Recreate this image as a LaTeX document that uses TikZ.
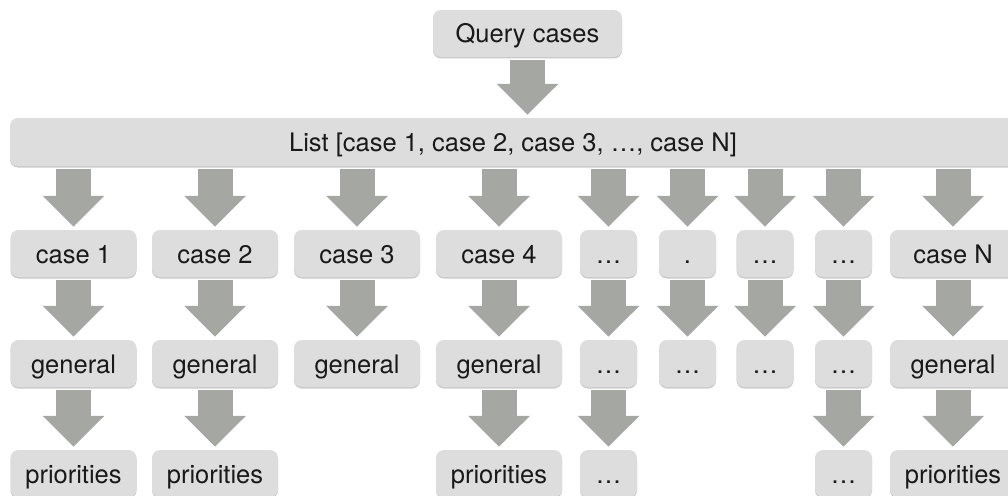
\documentclass[tikz,border=0pt]{standalone}
\usepackage{fontspec}
\setmainfont{TeX Gyre Heros}
\usepackage{tikz}
\usetikzlibrary{arrows.meta,shadows}
\definecolor{boxgrey}{RGB}{221,221,221}
\definecolor{arrowgrey}{RGB}{164,167,162}
\definecolor{textgrey}{RGB}{25,25,25}
\tikzstyle{box}=[rectangle,rounded corners=8pt,fill=boxgrey,minimum height=47pt,inner sep=0pt,text height=24pt,text depth=5pt,text=textgrey,font=\fontsize{25.5}{30}\selectfont,drop shadow={shadow xshift=0pt,shadow yshift=-1.5pt,opacity=0.35,fill=black!60}]
\tikzstyle{wide box}=[box,minimum width=126pt]
\tikzstyle{small box}=[box,minimum width=57pt]
\tikzstyle{edge} = [draw=arrowgrey,line width=35pt,-{Triangle[width=60pt,length=31pt]},shorten <=3pt,shorten >=3pt]

\begin{document}
\begin{tikzpicture}[x=1pt,y=-1pt]
        \useasboundingbox (0,0) rectangle (1008,495);
        % top
        \node[box,minimum width=189pt] (query) at (527.5,33.5) {Query cases};
        \node[box,minimum width=1006pt,minimum height=48pt] (list) at (513,142) {List [case 1, case 2, case 3, …, case N]};
        % cases
        \node[wide box] (c1) at (73.5,253.5) {case 1};
        \node[wide box] (c2) at (215,253.5) {case 2};
        \node[wide box] (c3) at (357,253.5) {case 3};
        \node[wide box] (c4) at (499,253.5) {case 4};
        \node[small box] (c5) at (608.5,253.5) {…};
        \node[small box] (c6) at (687.5,253.5) {.};
        \node[small box] (c7) at (765,253.5) {…};
        \node[small box] (c8) at (843.5,253.5) {…};
        \node[wide box] (cn) at (953,253.5) {case N};
        % general
        \node[wide box] (g1) at (73.5,363.5) {general};
        \node[wide box] (g2) at (215,363.5) {general};
        \node[wide box] (g3) at (357,363.5) {general};
        \node[wide box] (g4) at (499,363.5) {general};
        \node[small box] (g5) at (608.5,363.5) {…};
        \node[small box] (g6) at (687.5,363.5) {…};
        \node[small box] (g7) at (765,363.5) {…};
        \node[small box] (g8) at (843.5,363.5) {…};
        \node[wide box] (gn) at (953,363.5) {general};
        % priorities
        \node[wide box] (p1) at (73.5,473.5) {priorities};
        \node[wide box] (p2) at (215,473.5) {priorities};
        \node[wide box] (p4) at (499,473.5) {priorities};
        \node[small box] (p5) at (608.5,473.5) {…};
        \node[small box] (p8) at (843.5,473.5) {…};
        \node[wide box] (pn) at (953,473.5) {priorities};
        % arrows
        \draw[edge] (query) to (query |- list.north);
        \foreach \c in {c1,c2,c3,c4,c5,c6,c7,c8,cn}
          \draw[edge] (list.south -| \c) to (\c);
        \draw[edge] (c1) to (g1);
        \draw[edge] (c2) to (g2);
        \draw[edge] (c3) to (g3);
        \draw[edge] (c4) to (g4);
        \draw[edge] (c5) to (g5);
        \draw[edge] (c6) to (g6);
        \draw[edge] (c7) to (g7);
        \draw[edge] (c8) to (g8);
        \draw[edge] (cn) to (gn);
        \draw[edge] (g1) to (p1);
        \draw[edge] (g2) to (p2);
        \draw[edge] (g4) to (p4);
        \draw[edge] (g5) to (p5);
        \draw[edge] (g8) to (p8);
        \draw[edge] (gn) to (pn);
      \end{tikzpicture}
\end{document}
